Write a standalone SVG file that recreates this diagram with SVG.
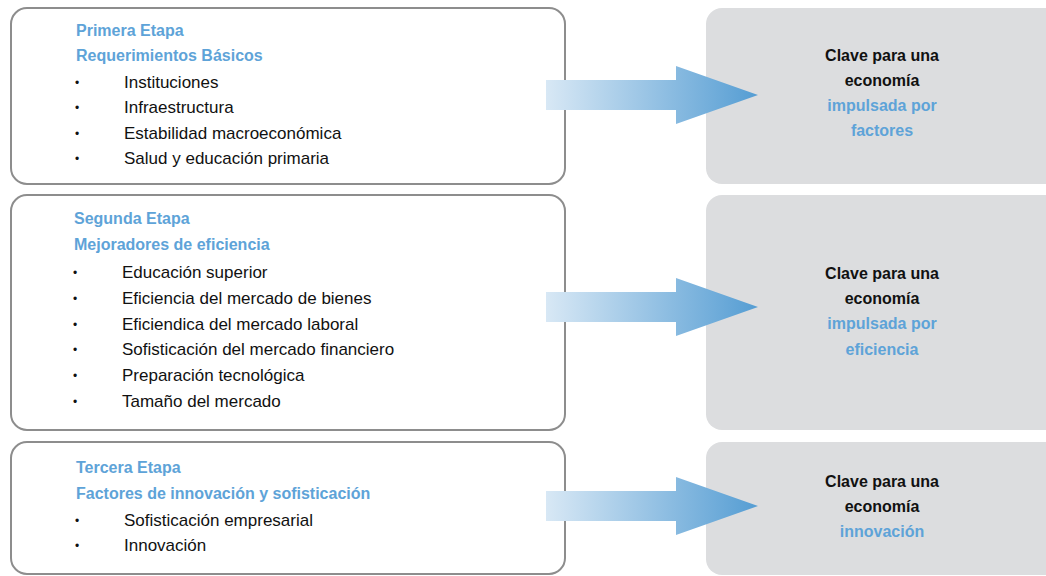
<svg xmlns="http://www.w3.org/2000/svg" width="1046" height="576" viewBox="0 0 1046 576">
<defs>
<linearGradient id="ag" x1="0" y1="0" x2="1" y2="0">
<stop offset="0" stop-color="#d8e8f5"/>
<stop offset="1" stop-color="#559dd3"/>
</linearGradient>
<style>
.stage{fill:#fff;stroke:#8d8d8d;stroke-width:2}
.key{fill:#dcdddf}
.h{font-family:"Liberation Sans",Arial,sans-serif;font-weight:bold;font-size:16px;fill:#5ea3d8}
.it{font-family:"Liberation Sans",Arial,sans-serif;font-size:17px;fill:#111}
.b{font-size:12px}
.k{font-family:"Liberation Sans",Arial,sans-serif;font-weight:bold;font-size:16px;fill:#111;text-anchor:middle}
.kb{fill:#5ea3d8}
.arr{fill:url(#ag)}
</style>
</defs>
<g id="key1"><rect class="key" x="706" y="8" width="360" height="176" rx="16"/>
<text class="k" x="882" y="61">Clave para una</text>
<text class="k" x="882" y="86">economía</text>
<text class="k kb" x="882" y="111">impulsada por</text>
<text class="k kb" x="882" y="136">factores</text></g>
<g id="key2"><rect class="key" x="706" y="195" width="360" height="235" rx="16"/>
<text class="k" x="882" y="279">Clave para una</text>
<text class="k" x="882" y="304">economía</text>
<text class="k kb" x="882" y="329">impulsada por</text>
<text class="k kb" x="882" y="355">eficiencia</text></g>
<g id="key3"><rect class="key" x="706" y="442" width="360" height="133" rx="16"/>
<text class="k" x="882" y="487">Clave para una</text>
<text class="k" x="882" y="512">economía</text>
<text class="k kb" x="882" y="537">innovación</text></g>
<g id="stage1"><rect class="stage" x="11" y="8" width="554" height="176" rx="16"/>
<text class="h" x="76" y="36">Primera Etapa</text>
<text class="h" x="76" y="61">Requerimientos Básicos</text>
<g class="it">
<text class="b" x="75" y="87">•</text><text x="124" y="88">Instituciones</text>
<text class="b" x="75" y="112">•</text><text x="124" y="113">Infraestructura</text>
<text class="b" x="75" y="138">•</text><text x="124" y="139">Estabilidad macroeconómica</text>
<text class="b" x="75" y="163">•</text><text x="124" y="164">Salud y educación primaria</text>
</g></g>
<g id="stage2"><rect class="stage" x="11" y="195" width="554" height="235" rx="16"/>
<text class="h" x="74" y="224">Segunda Etapa</text>
<text class="h" x="74" y="250">Mejoradores de eficiencia</text>
<g class="it">
<text class="b" x="73" y="277">•</text><text x="122" y="278">Educación superior</text>
<text class="b" x="73" y="303">•</text><text x="122" y="304">Eficiencia del mercado de bienes</text>
<text class="b" x="73" y="329">•</text><text x="122" y="330">Eficiendica del mercado laboral</text>
<text class="b" x="73" y="354">•</text><text x="122" y="355">Sofisticación del mercado financiero</text>
<text class="b" x="73" y="380">•</text><text x="122" y="381">Preparación tecnológica</text>
<text class="b" x="73" y="406">•</text><text x="122" y="407">Tamaño del mercado</text>
</g></g>
<g id="stage3"><rect class="stage" x="11" y="442" width="554" height="132" rx="16"/>
<text class="h" x="76" y="473">Tercera Etapa</text>
<text class="h" x="76" y="499">Factores de innovación y sofisticación</text>
<g class="it">
<text class="b" x="75" y="525">•</text><text x="124" y="526">Sofisticación empresarial</text>
<text class="b" x="75" y="550">•</text><text x="124" y="551">Innovación</text>
</g></g>
<g id="connectors">
<polygon class="arr" points="546,80 676,80 676,66 758,95 676,124 676,110 546,110"/>
<polygon class="arr" points="546,292 676,292 676,278 758,307 676,336 676,322 546,322"/>
<polygon class="arr" points="546,491 676,491 676,477 758,506 676,535 676,521 546,521"/>
</g>
</svg>
